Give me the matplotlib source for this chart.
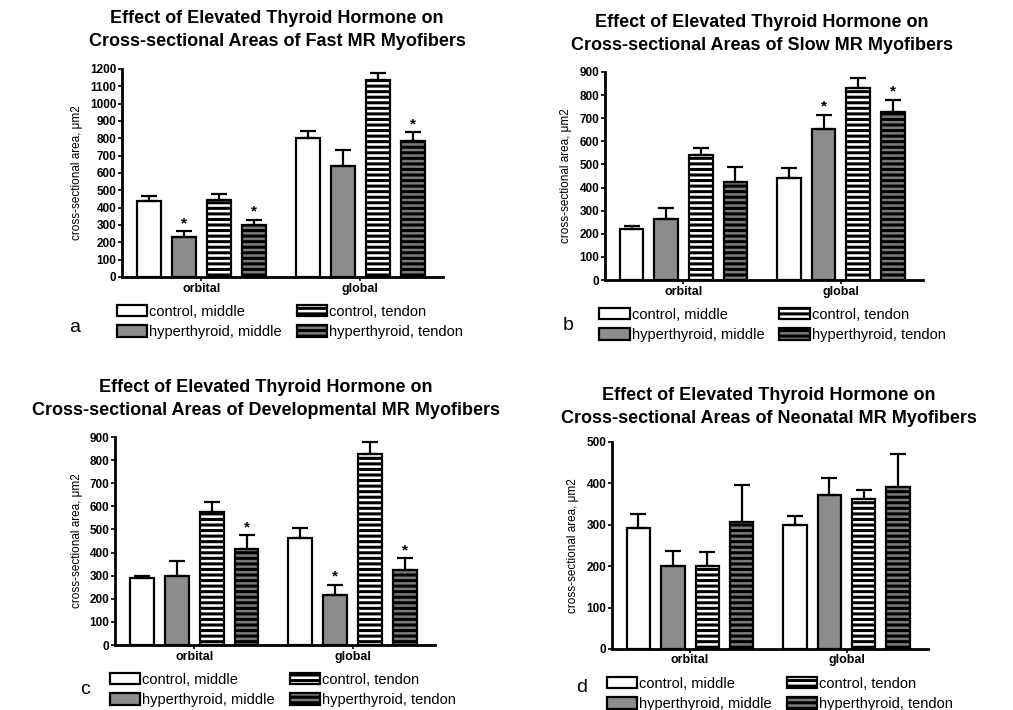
import numpy as np
import matplotlib.pyplot as plt

plt.rcParams['font.family'] = ['Liberation Sans', 'DejaVu Sans']
plt.rcParams['font.weight'] = 'bold'
plt.rcParams['hatch.linewidth'] = 2.2

groups = ['orbital', 'global']
series = ['control, middle', 'hyperthyroid, middle', 'control, tendon', 'hyperthyroid, tendon']

# panel a: fast
fast_vals = [[440, 230, 445, 300], [800, 640, 1135, 785]]
fast_err = [[25, 35, 35, 30], [40, 95, 40, 50]]
fast_star = [[0, 1, 0, 1], [0, 0, 0, 1]]

# panel b: slow
slow_vals = [[220, 265, 540, 425], [440, 655, 830, 725]]
slow_err = [[15, 45, 30, 65], [45, 60, 45, 55]]
slow_star = [[0, 0, 0, 0], [0, 1, 0, 1]]

# panel c: developmental
dev_vals = [[290, 300, 575, 415], [465, 215, 825, 325]]
dev_err = [[8, 65, 45, 60], [40, 45, 55, 50]]
dev_star = [[0, 0, 0, 1], [0, 1, 0, 1]]

# panel d: neonatal
neo_vals = [[293, 200, 200, 307], [300, 372, 363, 392]]
neo_err = [[32, 37, 35, 90], [22, 41, 22, 80]]
neo_star = [[0, 0, 0, 0], [0, 0, 0, 0]]

colors = ['white', '#8c8c8c', 'white', '#7a7a7a']
hatches = [None, None, '---', '---']

fig = plt.figure(figsize=(10.13, 7.10), dpi=100)


def panel(rect, vals, err, star, ymax, ystep, title, tx, ty, letter, lx, ly):
    ax = fig.add_axes(rect)
    vals = np.array(vals)
    err = np.array(err)
    w = 0.15
    sp = 0.22
    for i in range(4):
        x = np.arange(2) + (i - 1.5) * sp
        ax.bar(x, vals[:, i], w, color=colors[i], edgecolor='black',
               linewidth=1.6, hatch=hatches[i], label=series[i], zorder=2)
        ax.errorbar(x, vals[:, i], yerr=[np.zeros(2), err[:, i]], fmt='none',
                    ecolor='black', elinewidth=1.6, capsize=6, capthick=1.6, zorder=3)
        for j in range(2):
            if star[j][i]:
                ax.text(x[j], vals[j, i] + err[j, i] + ymax * 0.005, '*',
                        ha='center', va='bottom', fontsize=11)
    ax.set_xlim(-0.5, 1.52)
    ax.set_ylim(0, ymax)
    ax.set_yticks(np.arange(0, ymax + 1, ystep))
    ax.set_xticks([0, 1])
    ax.set_xticklabels(groups, fontsize=9)
    ax.tick_params(axis='y', labelsize=8.5, length=3, width=1.2, pad=1)
    ax.tick_params(axis='x', length=3, width=1.2, pad=1)
    for s in ['top', 'right']:
        ax.spines[s].set_visible(False)
    for s in ['left', 'bottom']:
        ax.spines[s].set_linewidth(2)
    ax.set_ylabel('cross-sectional area, \u03bcm2', fontsize=8.5, labelpad=5)
    ax.legend(loc='upper left', bbox_to_anchor=(-0.035, -0.105), ncol=2,
              frameon=False, handlelength=2.1, handleheight=0.85,
              columnspacing=1.0, handletextpad=0.15, labelspacing=0.45,
              borderaxespad=0, prop={'size': 10.5, 'weight': 'normal'})
    fig.text(tx, ty, title, ha='center', va='top', fontsize=13,
             linespacing=1.45)
    fig.text(lx, ly, letter, ha='center', va='center', fontsize=14,
             fontweight='normal')
    return ax


panel([0.1204, 0.6099, 0.317, 0.293], fast_vals, fast_err, fast_star, 1200, 100,
      'Effect of Elevated Thyroid Hormone on\nCross-sectional Areas of Fast MR Myofibers',
      277 / 1013, 1 - 10 / 710, 'a', 75 / 1013, 1 - 327 / 710)
panel([0.597, 0.6056, 0.314, 0.293], slow_vals, slow_err, slow_star, 900, 100,
      'Effect of Elevated Thyroid Hormone on\nCross-sectional Areas of Slow MR Myofibers',
      762 / 1013, 1 - 14 / 710, 'b', 568 / 1013, 1 - 325 / 710)
panel([0.1135, 0.0915, 0.316, 0.293], dev_vals, dev_err, dev_star, 900, 100,
      'Effect of Elevated Thyroid Hormone on\nCross-sectional Areas of Developmental MR Myofibers',
      266 / 1013, 1 - 379 / 710, 'c', 85 / 1013, 1 - 690 / 710)
panel([0.604, 0.086, 0.312, 0.2915], neo_vals, neo_err, neo_star, 500, 100,
      'Effect of Elevated Thyroid Hormone on\nCross-sectional Areas of Neonatal MR Myofibers',
      769 / 1013, 1 - 387 / 710, 'd', 582 / 1013, 1 - 687 / 710)

fig.savefig('out.png', dpi=100)
